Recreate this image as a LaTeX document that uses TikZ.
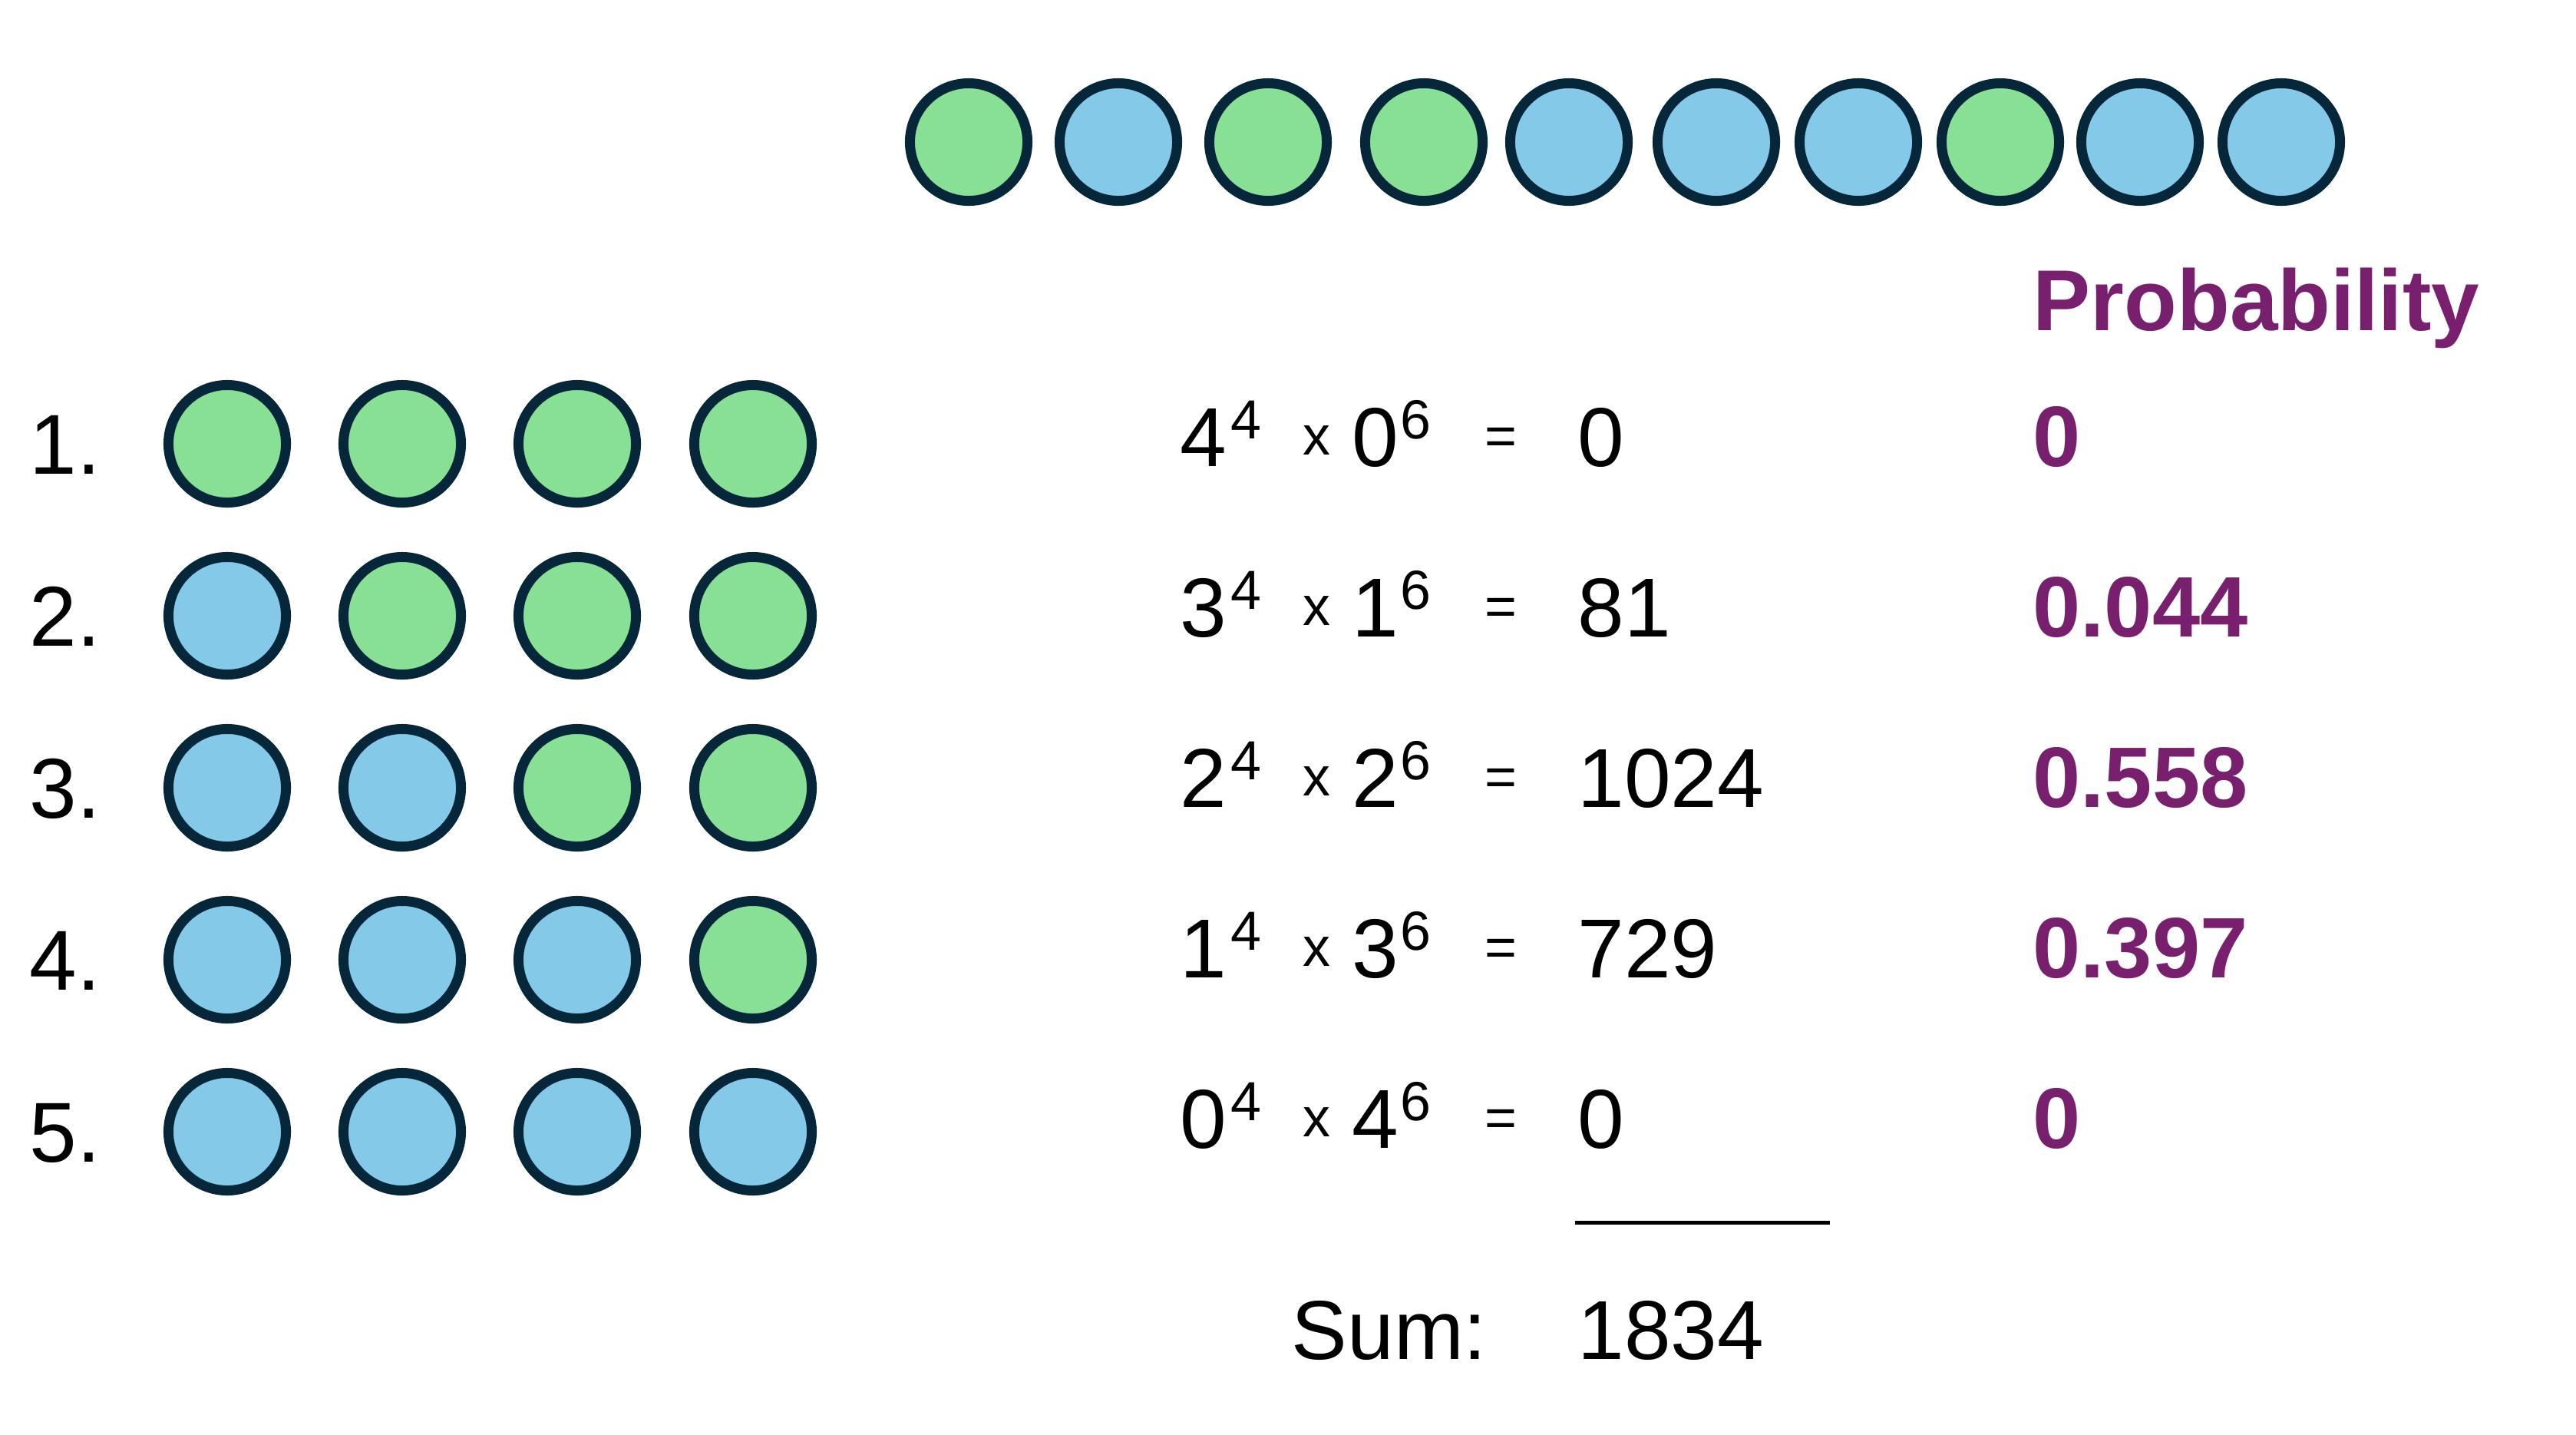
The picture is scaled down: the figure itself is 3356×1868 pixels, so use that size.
\documentclass[tikz,border=0pt]{standalone}
\usepackage{fontspec}
\setmainfont{Liberation Sans}
\definecolor{gr}{HTML}{88E095}
\definecolor{bl}{HTML}{84CAE8}
\definecolor{rim}{HTML}{06263A}
\definecolor{pur}{HTML}{78206E}
\begin{document}
\begin{tikzpicture}[x=0.01cm,y=-0.01cm,
  ball/.style={circle,draw=rim,line width=0.13cm,minimum size=1.53cm,inner sep=0pt},
  big/.style={anchor=base west,inner sep=0pt,font=\fontsize{31}{36}\selectfont},
  small/.style={anchor=base west,inner sep=0pt,font=\fontsize{20.4}{24}\selectfont},
  prob/.style={anchor=base west,inner sep=0pt,text=pur,font=\fontsize{31.8}{36}\selectfont\bfseries}]
\useasboundingbox (0,0) rectangle (3356,1868);
% top row of balls
\foreach \x/\c [count=\i] in {1262/gr,1457/bl,1652/gr,1855/gr,2044/bl,2236/bl,2421/bl,2606/gr,2788/bl,2972/bl}
  \node[ball,fill=\c] (t\i) at (\x,185) {};
% grid of draws
\foreach \r in {1,...,5}{
  \pgfmathsetmacro\yy{578+224*(\r-1)}
  \node[big,font=\fontsize{31.5}{36}\selectfont] (lab\r) at (38,\yy+39) {\r.};
  \foreach \c/\xx in {1/296,2/524,3/752,4/981}{
    \ifnum\c<\r \def\col{bl}\else\def\col{gr}\fi
    \node[ball,fill=\col] (g\r\c) at (\xx,\yy) {};
  }
}
% header
\node[prob,font=\fontsize{32}{36}\selectfont\bfseries] (head) at (2648,430) {Probability};
% equations
\foreach \a/\b/\res/\p [count=\r] in {4/0/0/0, 3/1/81/0.044, 2/2/1024/0.558, 1/3/729/0.397, 0/4/0/0}{
  \pgfmathsetmacro\yb{607+222*(\r-1)}
  \node[big] (a\r) at (1537,\yb) {\a};
  \node[small] (as\r) at (1603,\yb-36) {4};
  \node[small] (x\r) at (1697,\yb-15) {x};
  \node[big] (b\r) at (1761,\yb) {\b};
  \node[small] (bs\r) at (1824,\yb-36) {6};
  \node[small] (eq\r) at (1934,\yb-15) {=};
  \node[big] (res\r) at (2055,\yb) {\res};
  \node[prob] (p\r) at (2648,\yb) {\p};
}
% sum line
\coordinate (l1) at (2052,1592);
\coordinate (l2) at (2384,1592);
\draw[line width=0.05cm] (l1) -- (l2);
\node[big] (sum) at (1682,1770) {Sum:};
\node[big] (tot) at (2055,1770) {1834};
\end{tikzpicture}
\end{document}
